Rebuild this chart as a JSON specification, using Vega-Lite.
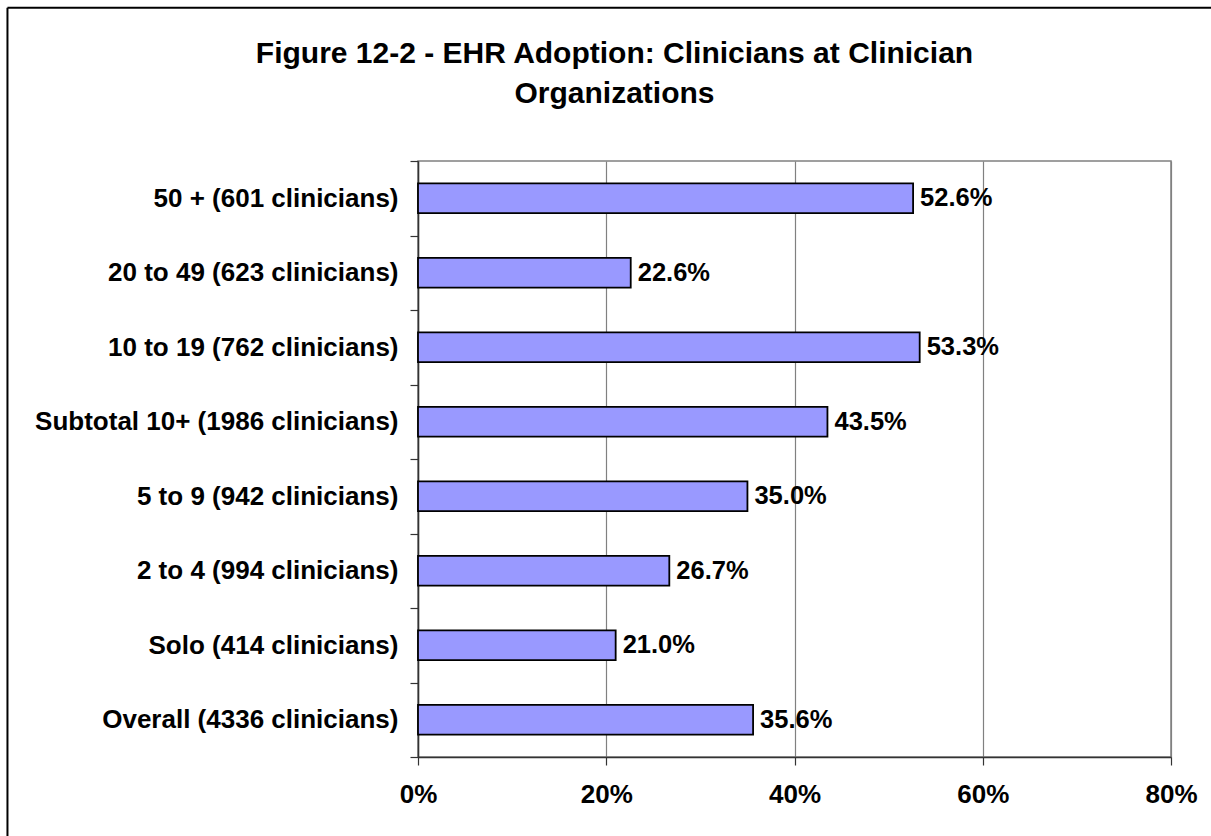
{
  "$schema": "https://vega.github.io/schema/vega-lite/v6.json",
  "autosize": "none",
  "width": 753,
  "height": 596,
  "padding": {"left": 418, "top": 161, "right": 40, "bottom": 79},
  "background": "white",
  "config": {
    "font": "Liberation Sans",
    "view": {"stroke": "#808080", "strokeWidth": 1.5}
  },
  "title": {
    "text": ["Figure 12-2 - EHR Adoption: Clinicians at Clinician", "Organizations"],
    "font": "Liberation Sans",
    "fontSize": 30,
    "fontWeight": "bold",
    "color": "black",
    "anchor": "middle",
    "frame": "group",
    "dx": -180,
    "offset": -102,
    "lineHeight": 40
  },
  "datasets": {
    "bars": [
      {"group": "50 + (601 clinicians)", "rate": 0.526},
      {"group": "20 to 49 (623 clinicians)", "rate": 0.226},
      {"group": "10 to 19 (762 clinicians)", "rate": 0.533},
      {"group": "Subtotal 10+ (1986 clinicians)", "rate": 0.435},
      {"group": "5 to 9 (942 clinicians)", "rate": 0.35},
      {"group": "2 to 4 (994 clinicians)", "rate": 0.267},
      {"group": "Solo (414 clinicians)", "rate": 0.21},
      {"group": "Overall (4336 clinicians)", "rate": 0.356}
    ],
    "frame": [
      {"fx1": -0.5452, "fx2": -0.5452, "fy1": -0.3, "fy2": 1.2572},
      {"fx1": -0.5452, "fx2": 1.6, "fy1": 1.2572, "fy2": 1.2572}
    ]
  },
  "layer": [
    {
      "data": {"name": "bars"},
      "layer": [
        {
          "mark": {"type": "bar", "fill": "#9999FF", "stroke": "black", "strokeWidth": 1.8, "height": {"band": 0.4}},
          "encoding": {
            "y": {
              "field": "group", "type": "nominal", "sort": null,
              "scale": {"paddingInner": 0, "paddingOuter": 0},
              "axis": {
                "title": null,
                "tickBand": "extent",
                "domainColor": "#333333",
                "domainWidth": 1.5,
                "tickColor": "#333333",
                "tickWidth": 1.2,
                "tickSize": 8,
                "labelPadding": 12,
                "labelFont": "Liberation Sans",
                "labelFontSize": 26,
                "labelFontWeight": "bold",
                "labelColor": "black",
                "grid": false,
                "labelLimit": 600
              }
            },
            "x": {
              "field": "rate", "type": "quantitative",
              "scale": {"domain": [0, 0.8], "nice": false},
              "axis": {
                "title": null,
                "values": [0, 0.2, 0.4, 0.6, 0.8],
                "format": ".0%",
                "grid": true,
                "gridColor": "#808080",
                "gridWidth": 1.2,
                "domainColor": "#333333",
                "domainWidth": 1.5,
                "tickColor": "#333333",
                "tickWidth": 1.2,
                "tickSize": 8,
                "labelPadding": 16,
                "labelFont": "Liberation Sans",
                "labelFontSize": 26,
                "labelFontWeight": "bold",
                "labelColor": "black",
                "labelFlush": false
              }
            }
          }
        },
        {
          "mark": {"type": "text", "align": "left", "baseline": "middle", "dx": 7, "font": "Liberation Sans", "fontSize": 25.5, "fontWeight": "bold", "color": "black"},
          "encoding": {
            "y": {"field": "group", "type": "nominal", "sort": null},
            "x": {"field": "rate", "type": "quantitative"},
            "text": {"field": "rate", "type": "quantitative", "format": ".1%"}
          }
        }
      ]
    },
    {
      "data": {"name": "frame"},
      "mark": {"type": "rule", "color": "black", "strokeWidth": 2, "clip": false},
      "encoding": {
        "x": {"field": "fx1", "type": "quantitative", "scale": {"domain": [0, 1], "nice": false, "zero": false}, "axis": null},
        "x2": {"field": "fx2"},
        "y": {"field": "fy1", "type": "quantitative", "scale": {"domain": [0, 1], "nice": false, "zero": false}, "axis": null},
        "y2": {"field": "fy2"}
      }
    }
  ],
  "resolve": {"scale": {"x": "independent", "y": "independent"}, "axis": {"x": "independent", "y": "independent"}}
}
